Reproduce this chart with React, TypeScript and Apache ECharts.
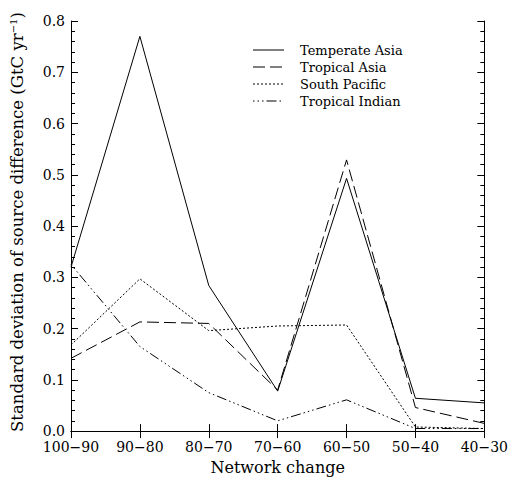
import React, { useEffect, useRef } from "react";
import * as echarts from "echarts";

const categories = ["100\u221290", "90\u221280", "80\u221270", "70\u221260", "60\u221250", "50\u221240", "40\u221230"];
const seriesNames = ["Temperate Asia", "Tropical Asia", "South Pacific", "Tropical Indian"];
const temperateAsia = [0.32, 0.77, 0.284, 0.078, 0.493, 0.064, 0.055];
const tropicalAsia = [0.142, 0.213, 0.21, 0.08, 0.529, 0.046, 0.015];
const southPacific = [0.168, 0.297, 0.196, 0.205, 0.207, 0.008, 0.005];
const tropicalIndian = [0.325, 0.165, 0.075, 0.02, 0.061, 0.005, 0.005];
const yTicks = [0, 0.8, 0.1];

const FONT = "DejaVu Serif";
const dashes: any[] = ["solid", [12, 5], [2, 2], [1.5, 3, 1.5, 3, 1.5, 3, 10, 3]];
const dashArr: any[] = [null, [12, 5], [2, 2], [1.5, 3, 1.5, 3, 1.5, 3, 10, 3]];

export default function App() {
  const ref = useRef<HTMLDivElement>(null);
  useEffect(() => {
    const chart = echarts.init(ref.current!, null, { renderer: "svg" });
    const data = [temperateAsia, tropicalAsia, southPacific, tropicalIndian];
    const axisLine = { show: true, lineStyle: { color: "#000", width: 1 } };
    const tick = { show: true, inside: true, length: 7, lineStyle: { color: "#000" } };
    const legendGraphics: any[] = [];
    seriesNames.forEach((n, i) => {
      const y = 50 + i * 17;
      legendGraphics.push({
        type: "line",
        shape: { x1: 253, y1: y, x2: 284, y2: y },
        style: { stroke: "#000", lineWidth: 1, lineDash: dashArr[i] || undefined },
      });
      legendGraphics.push({
        type: "text",
        x: 300,
        y,
        style: { text: n, font: `13px '${FONT}'`, fill: "#000", verticalAlign: "middle" },
      });
    });
    chart.setOption({
      animation: false,
      backgroundColor: "#fff",
      grid: { left: 66, right: 25, top: 21, bottom: 39 },
      graphic: legendGraphics,
      xAxis: [
        {
          type: "category",
          data: categories,
          boundaryGap: false,
          axisLine,
          axisTick: { ...tick, interval: 0 },
          axisLabel: { fontFamily: FONT, fontSize: 14, color: "#000", margin: 9, interval: 0, lineHeight: 14 },
          name: "Network change",
          nameLocation: "middle",
          nameGap: 23,
          nameTextStyle: { fontFamily: FONT, fontSize: 16, color: "#000", verticalAlign: "top" },
          splitLine: { show: false },
        },
        {
          type: "category",
          data: categories,
          boundaryGap: false,
          position: "top",
          axisLine,
          axisTick: { ...tick, interval: 0 },
          axisLabel: { show: false },
          splitLine: { show: false },
        },
      ],
      yAxis: [
        {
          type: "value",
          min: yTicks[0],
          max: yTicks[1],
          interval: yTicks[2],
          axisLine,
          axisTick: tick,
          minorTick: { show: true, splitNumber: 5, length: 4, lineStyle: { color: "#000" } },
          axisLabel: {
            fontFamily: FONT,
            fontSize: 14,
            color: "#000",
            margin: 6,
            lineHeight: 12,
            padding: [0, 0, 4, 0],
            formatter: (v: number) => v.toFixed(1),
          },
          splitLine: { show: false },
          name: "{a|Standard deviation of source difference (GtC yr}{s|\u22121}{a|)}",
          nameLocation: "middle",
          nameGap: 45,
          nameTextStyle: {
            fontFamily: FONT,
            color: "#000",
            padding: [0, 0, 0, 8],
            rich: {
              a: { fontFamily: FONT, fontSize: 16.5, color: "#000" },
              s: { fontFamily: FONT, fontSize: 10, color: "#000", verticalAlign: "top", padding: [0, 0, 8, 0] },
            },
          },
        },
        {
          type: "value",
          min: yTicks[0],
          max: yTicks[1],
          interval: yTicks[2],
          position: "right",
          axisLine,
          axisTick: tick,
          minorTick: { show: true, splitNumber: 5, length: 4, lineStyle: { color: "#000" } },
          axisLabel: { show: false },
          splitLine: { show: false },
        },
      ],
      series: seriesNames.map((name, i) => ({
        name,
        type: "line",
        data: data[i],
        symbol: "none",
        lineStyle: { color: "#000", width: 1, type: dashes[i] },
        itemStyle: { color: "#000" },
      })),
    });
    return () => chart.dispose();
  }, []);
  return <div ref={ref} style={{ position: "absolute", left: 0, top: 0, width: 511, height: 480 }} />;
}
